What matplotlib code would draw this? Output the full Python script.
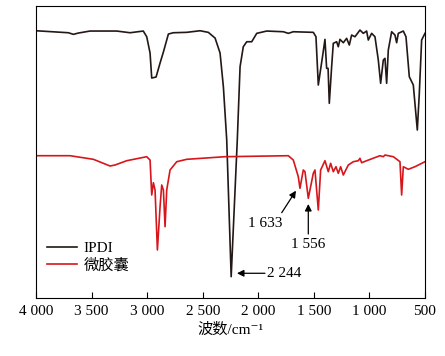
import matplotlib
matplotlib.use("Agg")
import matplotlib.pyplot as plt
from matplotlib.ticker import FixedLocator

plt.rcParams['font.family'] = ['Liberation Serif', 'Noto Sans CJK SC', 'DejaVu Serif']

# IPDI spectrum (wavenumber cm-1, transmittance a.u.)
ipdi_wn = [4000, 3709, 3664, 3619, 3514, 3274, 3154, 3035, 3004, 2974, 2959, 2920,
           2884, 2854, 2809, 2765, 2644, 2524, 2450, 2389, 2344, 2314, 2284, 2244,
           2189, 2164, 2135, 2104, 2059, 2014, 1924, 1775, 1730, 1685, 1505, 1481,
           1460, 1420, 1400, 1385, 1372, 1361, 1340, 1325, 1295, 1280, 1265, 1235,
           1205, 1181, 1160, 1130, 1085, 1055, 1025, 1010, 980, 950, 920, 899, 875,
           860, 845, 830, 800, 770, 755, 740, 695, 671, 641, 605, 569, 551, 530, 500]
ipdi_t = [269.3, 267.3, 265.7, 267, 269, 269, 267.3, 269, 263.3, 247, 222, 223,
          237, 248, 266, 267.3, 267.7, 269.3, 267.7, 262, 247, 213, 160, 23.3,
          160, 233.3, 253.3, 258.3, 258.3, 266.7, 269, 268.3, 266.7, 268.3, 267.7, 263.3,
          215, 245, 260.7, 231.7, 231.7, 196.7, 233.3, 256.7, 258.3, 253.3, 260.7, 257.3,
          261.7, 255, 265, 263.3, 270, 266.7, 269, 260, 266.7, 263.3, 240, 216.7, 240,
          241.7, 216.7, 250, 268.3, 265, 257.3, 266.7, 269, 263.3, 223.3, 215, 170, 206.7, 260, 266.7]

# microcapsule spectrum
mc_wn = [3988, 3694, 3484, 3334, 3289, 3184, 3004, 2974, 2959, 2944, 2929, 2908,
         2884, 2869, 2854, 2839, 2824, 2794, 2734, 2644, 2300, 1730, 1685, 1640,
         1625, 1595, 1580, 1550, 1505, 1490, 1460, 1439, 1400, 1370, 1349, 1325,
         1301, 1280, 1259, 1235, 1190, 1145, 1100, 1085, 1070, 1025, 905, 875, 860,
         785, 725, 710, 695, 650, 590, 500]
mc_t = [144.3, 144.3, 140.7, 134, 135, 139.3, 143.3, 140, 105, 117.3, 110, 50,
        93.3, 115, 110, 73.3, 110, 130, 138.3, 140.7, 143.3, 144.3, 140, 123.3,
        111.7, 130, 128.3, 101.7, 126.7, 130, 90, 130, 139.3, 128.3, 136.7, 128.3,
        133.3, 126.7, 133.3, 125, 135, 138.3, 139.3, 141.7, 137.3, 139.3, 144.3, 143.3, 145,
        143.3, 138.3, 105, 133.3, 130.7, 133.3, 138.3]

xticks = [4000, 3500, 3000, 2500, 2000, 1500, 1000, 500]
xtick_labels = ['4 000', '3 500', '3 000', '2 500', '2 000', '1 500', '1 000', '500']

fig = plt.figure(figsize=(4.45, 3.56), dpi=100)
ax = fig.add_axes([0.081, 0.163, 0.874, 0.820])

ax.plot(ipdi_wn, ipdi_t, color='#231815', lw=1.2, label='IPDI')
ax.plot(mc_wn, mc_t, color='#d7161b', lw=1.2, label='微胶囊')

ax.set_xlim(4000, 500)
ax.set_ylim(2, 294)
ax.xaxis.set_major_locator(FixedLocator(xticks))
ax.set_xticklabels(xtick_labels)
ax.tick_params(axis='x', direction='in', length=4, width=0.8, labelsize=11, pad=5)
ax.set_yticks([])
for s in ax.spines.values():
    s.set_linewidth(0.8)
ax.set_xlabel('波数/cm⁻¹', fontsize=11, labelpad=3)

arrow = dict(arrowstyle='-|>', color='black', lw=0.9, mutation_scale=10, shrinkA=0, shrinkB=0)
ax.annotate('', xy=(2192, 26.7), xytext=(1940, 26.7), arrowprops=arrow)
ax.text(1922, 26.7, '2 244', fontsize=11, va='center', ha='left')
ax.annotate('', xy=(1661, 109.3), xytext=(1789, 87.3), arrowprops=arrow)
ax.text(1940, 76.7, '1 633', fontsize=11, va='center', ha='center')
ax.annotate('', xy=(1550, 96), xytext=(1550, 66), arrowprops=arrow)
ax.text(1550, 55, '1 556', fontsize=11, va='center', ha='center')

ax.legend(loc='upper left', bbox_to_anchor=(0.0, 0.23), frameon=False, fontsize=11,
          handlelength=2.0, handletextpad=0.4, labelspacing=0.2, borderaxespad=0.3)

fig.savefig('out.png', dpi=100)
